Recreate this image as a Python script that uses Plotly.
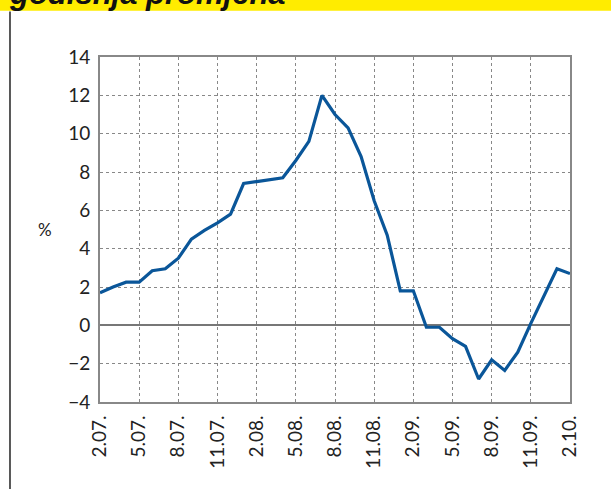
import plotly.graph_objects as go

# monthly labels, 2.07. .. 2.10.
months = [f"{m}.{y:02d}." for y in (7, 8, 9) for m in range(1, 13)][1:] + ["1.10.", "2.10."]

# annual change, %
values = [1.7, 2.0, 2.25, 2.25, 2.85, 2.95, 3.5, 4.5, 4.95, 5.35, 5.8,
          7.4, 7.5, 7.6, 7.7, 8.6, 9.6, 12.0, 11.0, 10.3, 8.8, 6.5,
          4.7, 1.8, 1.8, -0.1, -0.1, -0.7, -1.1, -2.8, -1.8, -2.35,
          -1.4, 0.1, 1.5, 2.95, 2.7]

tick_labels = months[::3]

fig = go.Figure()
fig.add_trace(go.Scatter(x=months, y=values, mode="lines",
                         line=dict(color="#0a5699", width=3.2),
                         hoverinfo="skip"))

font = "Lato, 'DejaVu Sans', sans-serif"

fig.update_layout(width=611, height=489,
                  margin={'t': 57, 'b': 87, 'l': 100, 'r': 41},
                  paper_bgcolor="white", plot_bgcolor="white",
                  showlegend=False,
                  font=dict(family=font, size=19, color="#222"))

fig.update_xaxes(type="category", range=[0, 36], automargin=False,
                 tickvals=tick_labels, ticktext=tick_labels,
                 tickangle=-90, ticks="", ticklabelstandoff=4,
                 showgrid=True, griddash="dot", gridcolor="#888", gridwidth=1,
                 showline=True, mirror=True, linecolor="#888", linewidth=2)
fig.update_yaxes(range=[-4, 14], dtick=2, ticks="", ticklabelstandoff=4, automargin=False,
                 showgrid=True, griddash="dot", gridcolor="#888", gridwidth=1,
                 zeroline=True, zerolinecolor="#777", zerolinewidth=2,
                 showline=True, mirror=True, linecolor="#888", linewidth=2)

# yellow header band and left panel rule
fig.add_shape(type="rect", xref="paper", yref="paper",
              x0=-0.22, x1=1.1, y0=1.134, y1=1.2,
              fillcolor="#ffec00", line_width=0, layer="below")
fig.add_shape(type="line", xref="paper", yref="paper",
              x0=-0.1915, x1=-0.1915, y0=-0.26, y1=1.132,
              line=dict(color="#222", width=1.5))

fig.add_annotation(text="<b><i>godišnja promjena</i></b>", xref="paper", yref="paper",
                   x=-0.198, y=1.128, xanchor="left", yanchor="bottom",
                   showarrow=False,
                   font=dict(family="'Liberation Sans', Arial, sans-serif", size=31, color="#111"))
fig.add_annotation(text="%", xref="paper", yref="paper", x=-0.117, y=0.5,
                   xanchor="center", yanchor="middle", showarrow=False,
                   font=dict(family=font, size=17, color="#222"))

fig.write_html("out.html", config={"displayModeBar": False},
               post_script="document.body.style.margin='0';")
